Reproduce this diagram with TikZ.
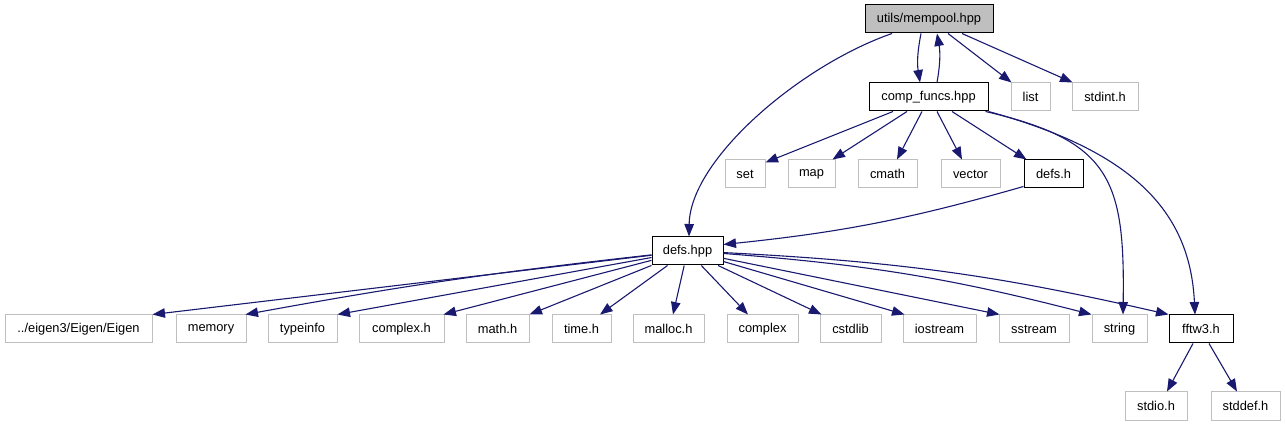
\documentclass[tikz,border=0pt]{standalone}
\usepackage{fontspec}
\setmainfont{Liberation Sans}
\usetikzlibrary{arrows.meta}
\definecolor{edgecol}{HTML}{191970}
\definecolor{grey75}{HTML}{BFBFBF}
\begin{document}
\begin{tikzpicture}[x=1pt,y=-1pt,
  box/.style={draw=grey75, line width=1pt, fill=white, minimum height=28pt,
    inner sep=0pt, font=\fontsize{12.85}{14}\selectfont, text=black},
  dbox/.style={box, draw=black},
  edge/.style={draw=edgecol, line width=1.1pt, -{Triangle[length=12.5pt,width=9.5pt]}},
]
\useasboundingbox (0,0) rectangle (1285,427);
% top
\node[dbox, fill=grey75, minimum width=128pt] (mempool) at (929,19) {utils/mempool.hpp};
\node[dbox, minimum width=119pt] (compfuncs) at (928.5,97) {comp\_funcs.hpp};
\node[box, minimum width=39pt] (list) at (1030.5,97) {list};
\node[box, minimum width=66pt] (stdint) at (1105,97) {stdint.h};
% second row
\node[box, minimum width=40pt] (set) at (745,174) {set};
\node[box, minimum width=47pt] (map) at (811.5,174) {map};
\node[box, minimum width=59pt] (cmath) at (887.5,174) {cmath};
\node[box, minimum width=59pt] (vector) at (970.5,174) {vector};
\node[dbox, minimum width=59pt] (defsh) at (1053.5,174) {defs.h};
% third
\node[dbox, minimum width=71pt] (defshpp) at (687.5,251) {defs.hpp};
% bottom row
\node[box, minimum width=147pt] (eigen) at (78.5,329) {../eigen3/Eigen/Eigen};
\node[box, minimum width=70pt] (memory) at (211,329) {memory};
\node[box, minimum width=69pt] (typeinfo) at (302.5,329) {typeinfo};
\node[box, minimum width=85pt] (complexh) at (401.5,329) {complex.h};
\node[box, minimum width=63pt] (mathh) at (497.5,329) {math.h};
\node[box, minimum width=59pt] (timeh) at (581.5,329) {time.h};
\node[box, minimum width=71pt] (malloch) at (668.5,329) {malloc.h};
\node[box, minimum width=71pt] (complex) at (762.5,329) {complex};
\node[box, minimum width=61pt] (cstdlib) at (850.5,329) {cstdlib};
\node[box, minimum width=73pt] (iostream) at (939.5,329) {iostream};
\node[box, minimum width=70pt] (sstream) at (1034,329) {sstream};
\node[box, minimum width=55pt] (string) at (1119.5,329) {string};
\node[dbox, minimum width=64pt] (fftw) at (1201,329) {fftw3.h};
% last
\node[box, minimum width=62pt] (stdio) at (1156,406) {stdio.h};
\node[box, minimum width=69pt] (stddef) at (1245.5,406) {stddef.h};

% edges from mempool
\draw[edge] ([xshift=-37]mempool.south) .. controls +(-92,32) and +(1,-77) .. ([xshift=1.5]defshpp.north);
\draw[edge] ([xshift=-8]mempool.south) to[bend right=10] ([xshift=-8.5]compfuncs.north);
\draw[edge] ([xshift=8.5]compfuncs.north) to[bend right=10] ([xshift=8]mempool.south);
\draw[edge] ([xshift=19]mempool.south) -- ([xshift=1]list.north west);
\draw[edge] ([xshift=33]mempool.south) -- ([xshift=1]stdint.north west);
% edges from comp_funcs
\draw[edge] ([xshift=-35.5]compfuncs.south) -- ([yshift=-3]set.north east);
\draw[edge] ([xshift=-21.5]compfuncs.south) -- ([xshift=-3]map.north east);
\draw[edge] ([xshift=-6.5]compfuncs.south) -- ([xshift=9.5]cmath.north);
\draw[edge] ([xshift=8.5]compfuncs.south) -- ([xshift=-8.5]vector.north);
\draw[edge] ([xshift=23.5]compfuncs.south) -- ([xshift=3]defsh.north west);
\draw[edge] ([xshift=-3]compfuncs.south east) .. controls +(125,29) and +(2,-135) .. ([xshift=3.5]string.north);
\draw[edge] (compfuncs.south east) .. controls +(142,39) and +(-5,-105) .. ([xshift=-6]fftw.north);
% defs.h
\draw[edge] ([yshift=2]defsh.south west) to[bend left=5] ([yshift=-8]defshpp.north east);
% edges from defs.hpp
\draw[edge] (defshpp) -- (eigen.north east);
\draw[edge] (defshpp) to[bend right=2] ([xshift=-1]memory.north east);
\draw[edge] (defshpp) -- (typeinfo.north east);
\draw[edge] (defshpp) -- ([xshift=-1]complexh.north east);
\draw[edge] (defshpp) -- (mathh.north east);
\draw[edge] (defshpp) -- ([xshift=18.5]timeh.north);
\draw[edge] (defshpp) -- ([xshift=4.5]malloch.north);
\draw[edge] (defshpp) -- ([xshift=-14.5]complex.north);
\draw[edge] (defshpp) -- ([xshift=2]cstdlib.north west);
\draw[edge] (defshpp) -- ([xshift=2]iostream.north west);
\draw[edge] (defshpp) -- ([xshift=1]sstream.north west);
\draw[edge] (defshpp) to[bend left=5] (string.north west);
\draw[edge] (defshpp) to[bend left=5] (fftw.north west);
% fftw3
\draw[edge] ([xshift=-8]fftw.south) -- ([xshift=11]stdio.north);
\draw[edge] ([xshift=8]fftw.south) -- ([xshift=-8.5]stddef.north);
\end{tikzpicture}
\end{document}
